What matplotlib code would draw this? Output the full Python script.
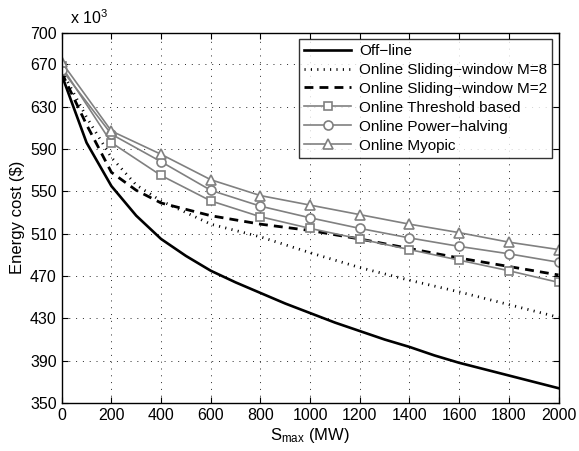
import numpy as np
import matplotlib
matplotlib.use('Agg')
import matplotlib.pyplot as plt

plt.rcParams['font.family'] = 'Liberation Sans'
plt.rcParams['mathtext.fontset'] = 'custom'
plt.rcParams['mathtext.rm'] = 'Liberation Sans'
plt.rcParams['mathtext.it'] = 'Liberation Sans:italic'

# Smax (MW) e custo (x 10^3 $)
s_fino = [0, 100, 200, 300, 400, 500, 600, 700, 800, 900, 1000,
          1100, 1200, 1300, 1400, 1500, 1600, 1700, 1800, 1900, 2000]
offline = [660, 596, 555, 527, 505, 489, 475, 464, 454, 444, 435,
           426, 418, 410, 403, 395, 388, 382, 376, 370, 364]

s_janela = [0, 100, 200, 300, 400, 600, 800, 1000, 1200, 1400, 1600, 1800, 2000]
janela_m8 = [664, 620, 582, 556, 541, 519, 507, 492, 478, 466, 455, 443, 431]
janela_m2 = [662, 613, 568, 551, 539, 527, 519, 513, 505, 496, 487, 479, 471]

s_marc = [0, 200, 400, 600, 800, 1000, 1200, 1400, 1600, 1800, 2000]
threshold = [668, 596, 565, 541, 526, 515, 505, 495, 485, 475, 464]
halving = [665, 604, 578, 551, 536, 525, 515, 506, 498, 491, 483]
myopic = [672, 607, 585, 561, 546, 537, 528, 519, 511, 502, 495]

y_ticks = [350, 390, 430, 470, 510, 550, 590, 630, 670, 700]
x_ticks = list(range(0, 2001, 200))

fig = plt.figure(figsize=(5.79, 4.51), dpi=100)
ax = fig.add_axes([0.1066, 0.1064, 0.858, 0.8213])

cinza = (0.5, 0.5, 0.5)
ax.plot(s_fino, offline, color='black', linewidth=1.9, label='Off\u2212line')
ax.plot(s_janela, janela_m8, color='black', linewidth=2.0, linestyle=(0, (0.4, 1.9)),
        label='Online Sliding\u2212window M=8')
ax.plot(s_janela, janela_m2, color='black', linewidth=2.0, linestyle=(0, (3.2, 2.2)),
        label='Online Sliding\u2212window M=2')
ax.plot(s_marc, threshold, color=cinza, linewidth=1.2, marker='s', markersize=5.5,
        markerfacecolor='white', markeredgecolor=cinza, markeredgewidth=1.2,
        label='Online Threshold based')
ax.plot(s_marc, halving, color=cinza, linewidth=1.2, marker='o', markersize=6.5,
        markerfacecolor='white', markeredgecolor=cinza, markeredgewidth=1.2,
        label='Online Power\u2212halving')
ax.plot(s_marc, myopic, color=cinza, linewidth=1.2, marker='^', markersize=7,
        markerfacecolor='white', markeredgecolor=cinza, markeredgewidth=1.2,
        label='Online Myopic')

ax.set_xlim(0, 2000)
ax.set_ylim(350, 700)
ax.set_xticks(x_ticks)
ax.set_yticks(y_ticks)
ax.tick_params(direction='in', top=True, right=True, labelsize=11.5, length=4)
ax.grid(True, linestyle=(0, (1, 6)), color='0.15', linewidth=0.7)
for lado in ax.spines.values():
    lado.set_linewidth(1.0)

ax.set_xlabel(r'S$_{\mathrm{max}}$ (MW)', fontsize=12, labelpad=2)
ax.set_ylabel('Energy cost (\\$)', fontsize=12, labelpad=4)
ax.text(0.017, 1.015, r'x 10$^{3}$', transform=ax.transAxes, fontsize=11.5,
        ha='left', va='bottom')

leg = ax.legend(loc='upper right', fontsize=11, frameon=True, fancybox=False,
                edgecolor='black', borderpad=0.35, labelspacing=0.32,
                handlelength=3.1, handletextpad=0.5, borderaxespad=0.4)
leg.get_frame().set_linewidth(1.0)

fig.savefig('out.png', dpi=100)
